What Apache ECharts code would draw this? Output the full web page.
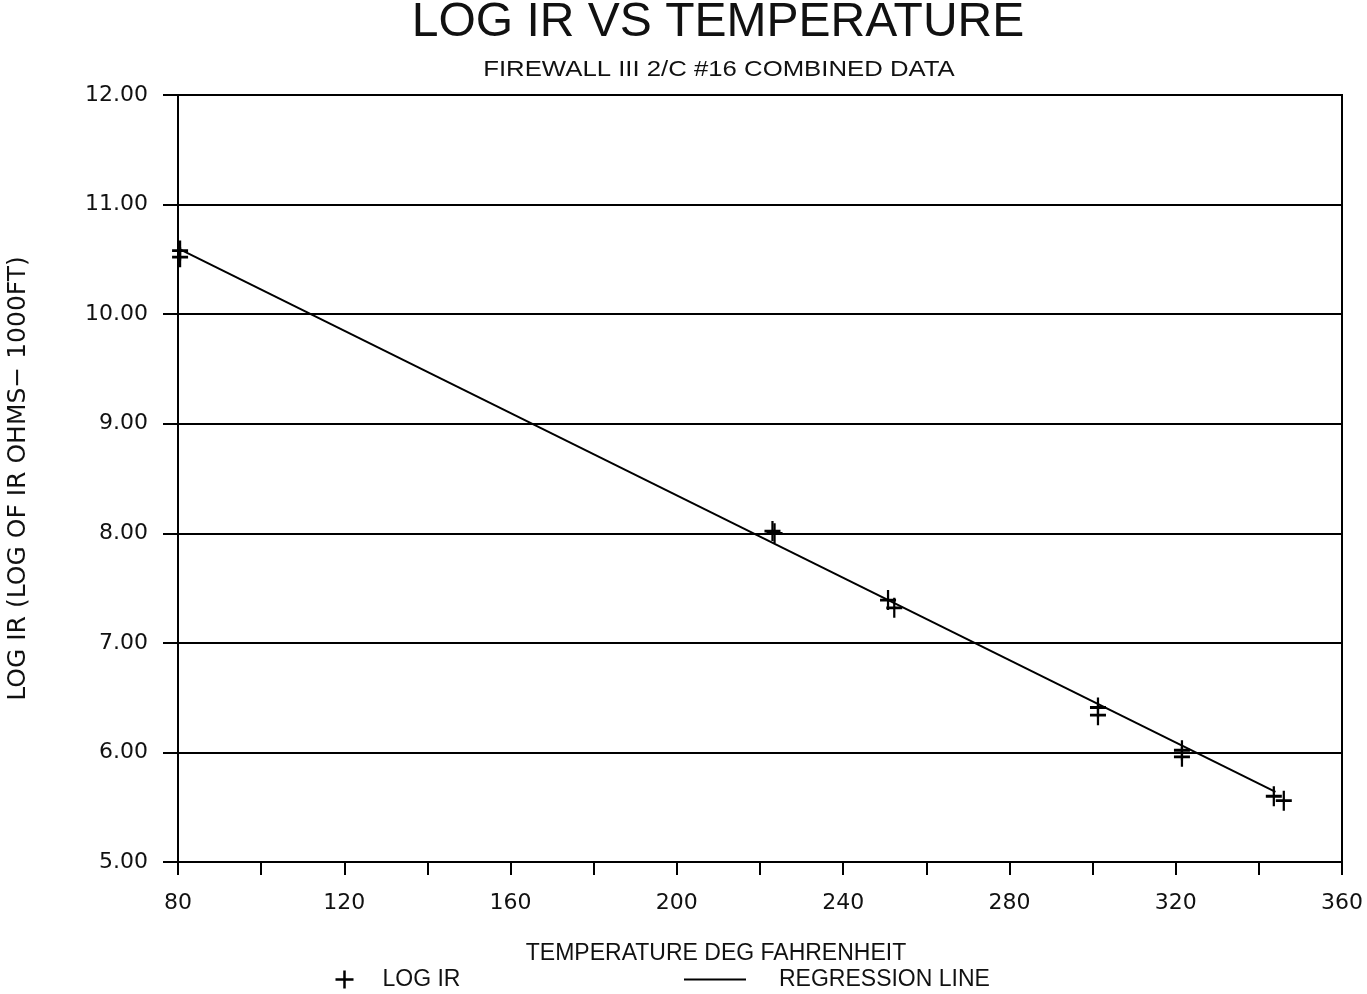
<!DOCTYPE html>
<html>
<head>
<meta charset="utf-8">
<script src="https://cdn.jsdelivr.net/npm/echarts@6/dist/echarts.min.js"></script>
<style>html,body{margin:0;padding:0;background:#fff;}#c{width:1367px;height:994px;}</style>
</head>
<body>
<div id="c"></div>
<script>
var titleText = 'LOG IR VS TEMPERATURE';
var subtitleText = 'FIREWALL III 2/C #16 COMBINED DATA';
var xName = 'TEMPERATURE DEG FAHRENHEIT';
var yName = 'LOG IR (LOG OF IR OHMS\u2212 1000FT)';
var seriesNames = ['LOG IR', 'REGRESSION LINE'];
var temps = [80.5, 80.5, 223, 223.5, 250.8, 252.3, 301.3, 301.3, 321.5, 321.5, 343.6, 346];
var logIR = [10.58, 10.52, 8.02, 8.00, 7.39, 7.32, 6.41, 6.34, 6.02, 5.96, 5.60, 5.56];
var regT = [80, 344];
var regV = [10.60, 5.64];

var chart = echarts.init(document.getElementById('c'), null, {renderer: 'canvas'});
var plus = 'path://M0,10 L20,10 M10,0 L10,20';
var numFont = '"DejaVu Sans", sans-serif';
var txtFont = '"Liberation Sans", Arial, sans-serif';
var option = {
  backgroundColor: '#fff',
  animation: false,
  graphic: [
    {type: 'text', x: 718, y: 23, style: {text: titleText, font: '48px "Liberation Sans", Arial, sans-serif', fill: '#111', textAlign: 'center', textVerticalAlign: 'middle'}},
    {type: 'text', x: 719, y: 70, scaleX: 1.17, originX: 0, style: {text: subtitleText, font: '22px "Liberation Sans", Arial, sans-serif', fill: '#111', textAlign: 'center', textVerticalAlign: 'middle'}}
  ],
  grid: {left: 178, right: 25, top: 95, bottom: 132, show: true, borderColor: '#000', borderWidth: 2, containLabel: false, outerBoundsMode: 'none'},
  legend: [
    {data: [{name: seriesNames[0], icon: plus}], left: 328, top: 963, itemWidth: 18, itemHeight: 18,
     textStyle: {fontFamily: txtFont, fontSize: 23, color: '#111', padding: [0, 0, 0, 24]},
     itemStyle: {color: 'none', borderColor: '#000', borderWidth: 2.5, opacity: 1}},
    {data: [{name: seriesNames[1], icon: 'rect'}], left: 679, top: 963, itemWidth: 62, itemHeight: 2,
     textStyle: {fontFamily: txtFont, fontSize: 23, color: '#111', padding: [0, 0, 0, 28]},
     itemStyle: {color: '#000'}, lineStyle: {color: '#000'}}
  ],
  xAxis: {
    type: 'value', min: 80, max: 360, interval: 20,
    name: xName, nameLocation: 'middle', nameGap: 80,
    nameTextStyle: {fontFamily: txtFont, fontSize: 23, color: '#111', padding: [0, 88, 0, 0]},
    axisLine: {show: true, onZero: false, lineStyle: {color: '#000', width: 2}},
    axisTick: {show: true, length: 13, lineStyle: {color: '#000', width: 2}},
    axisLabel: {margin: 30, fontFamily: numFont, fontSize: 22, color: '#111',
      formatter: function (v) { return v % 40 === 0 ? String(v) : ''; }},
    splitLine: {show: false}
  },
  yAxis: {
    type: 'value', min: 5, max: 12, interval: 1,
    name: yName, nameLocation: 'middle', nameGap: 147, nameRotate: 90,
    nameTextStyle: {fontFamily: numFont, fontSize: 25, color: '#111'},
    axisLine: {show: true, onZero: false, lineStyle: {color: '#000', width: 2}},
    axisTick: {show: true, length: 15, lineStyle: {color: '#000', width: 2}},
    axisLabel: {margin: 30, fontFamily: numFont, fontSize: 22, color: '#111',
      formatter: function (v) { return v.toFixed(2); }},
    splitLine: {show: true, lineStyle: {color: '#000', width: 2}}
  },
  series: [
    {
      name: seriesNames[0], type: 'scatter',
      data: temps.map(function (t, i) { return [t, logIR[i]]; }),
      symbol: plus, symbolSize: [16, 20],
      itemStyle: {color: 'none', borderColor: '#000', borderWidth: 2.5, opacity: 1},
      z: 5
    },
    {
      name: seriesNames[1], type: 'line',
      data: regT.map(function (t, i) { return [t, regV[i]]; }),
      showSymbol: false, symbol: 'none',
      lineStyle: {color: '#000', width: 2}, itemStyle: {color: '#000'},
      z: 4
    }
  ]
};
chart.setOption(option);
</script>
</body>
</html>
